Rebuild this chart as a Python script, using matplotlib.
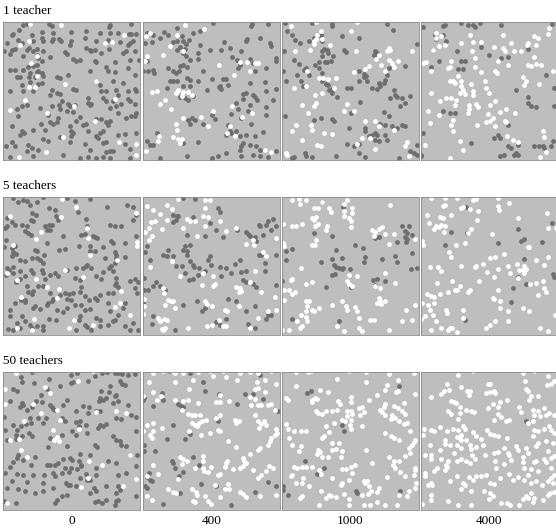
import re
import numpy as np
import matplotlib
matplotlib.use('Agg')
import matplotlib.pyplot as plt

plt.rcParams['font.family'] = ['Liberation Serif', 'DejaVu Serif']

# dot positions (pixel coords inside each panel, 3x scale)
# rows: number of teachers, columns: time step
row_titles = ['1 teacher', '5 teachers', '50 teachers']
col_labels = ['0', '400', '1000', '4000']

gray_1_0 = """(68,22),(80,18),(148,18),(155,25),(395,18),(332,20),(328,27),(58,35),(40,48),(35,50),(95,50),(125,42),(160,45),(215,42),(260,38),(300,45),(330,45),(355,45),(388,47),(395,47),(410,48),
(20,75),(55,65),(65,75),(100,68),(125,60),(130,70),(155,68),(160,62),(178,62),(182,68),(212,68),(255,60),(290,68),(325,65),(362,72),(390,75),(400,70),(385,82),
(13,100),(35,95),(45,92),(80,95),(88,90),(100,100),(110,92),(130,100),(210,82),(260,90),(270,95),(275,100),(285,95),(328,92),(380,100),(405,100),
(30,108),(70,115),(110,110),(115,120),(125,128),(150,118),(195,103),(200,108),(220,122),(228,128),(240,125),(285,128),(288,133),(305,105),(345,133),(390,125),(418,125),(370,105),
(85,148),(100,145),(110,140),(30,155),(45,155),(70,155),(90,165),(110,162),(115,160),(125,165),(270,158),(320,148),(325,158),(385,150),(345,162),(405,172),(50,178),(60,178),(88,178),(105,178),(128,175),(170,178),(180,180),(205,172),
(90,192),(115,198),(125,195),(65,200),(290,188),(340,188),(370,195),(300,200),(30,218),(68,218),(100,218),(155,215),(220,212),(230,215),(305,218),(320,218),(350,215),(385,218),(405,212),(410,220),
(150,232),(170,225),(180,228),(185,248),(265,240),(310,240),(320,250),(355,232),(385,242),(390,248),(340,248),
(65,265),(80,260),(120,270),(155,265),(178,260),(180,272),(205,258),(210,265),(225,262),(265,255),(270,260),(275,258),(330,270),(350,265),(365,258),(405,258),(50,272),(200,278),(220,282),(355,285),(410,285),(395,293),
(55,295),(145,292),(175,300),(240,298),(290,302),(305,302),(380,300),(405,295),(228,310),(150,312),(160,318),(170,312),(250,322),(260,318),(320,312),(325,320),(35,323),(122,318),(210,325),(330,308),
(65,338),(72,345),(60,350),(100,335),(135,335),(215,340),(220,345),(265,340),(300,345),(310,340),(290,355),(295,360),(375,348),(410,345),(355,352),(130,362),(180,358),(215,355),
(35,372),(18,383),(45,385),(85,382),(95,390),(145,370),(210,372),(255,378),(310,375),(320,372),(375,378),(270,395),(320,402),(330,400),(340,398),(390,393),(80,398),(115,395),
(30,418),(100,415),(190,412),(240,420),(265,418),(290,420),(310,418),(330,420),(390,420)"""
white_1_0 = """(90,18),(182,20),(372,50),(88,70),(60,82),(316,75),(336,73),(110,115),(92,135),(112,175),(290,188),(195,197),(87,206),(106,208),
(76,246),(345,242),(222,263),(31,275),(140,286),(286,310),(190,356),(358,373),(410,377),(137,402),(58,416),(408,411)"""

gray_1_1 = """(20,45),(40,50),(73,42),(85,50),(110,30),(125,55),(158,45),(180,38),(220,15),(338,18),(333,25),(385,18),
(15,75),(35,72),(60,60),(100,72),(110,70),(130,68),(138,78),(148,65),(180,80),(245,95),(252,72),(270,90),(322,62),(318,70),(360,60),(390,75),(395,85),
(110,95),(120,88),(128,105),(135,92),(175,105),(210,95),(305,100),(138,115),(175,122),(278,118),(292,125),(410,120),(408,128),(330,122),(20,130),
(10,158),(25,160),(40,155),(42,165),(85,150),(100,158),(108,165),(118,160),(120,145),(130,140),(140,148),(150,125),(190,158),(295,150),(300,142),(340,135),(345,158),(378,150),
(100,190),(110,188),(140,180),(150,185),(175,188),(215,182),(250,182),(260,182),(240,205),(245,212),(238,208),(265,200),(330,195),(375,192),(90,188),
(130,205),(150,205),(200,215),(80,210),(310,228),(320,225),(340,230),(345,238),(352,245),(310,242),(380,220),(408,212),(400,245),
(120,238),(135,240),(145,245),(160,235),(290,255),(330,260),(295,272),(380,268),(275,288),(325,280),
(145,305),(155,300),(165,305),(190,318),(215,290),(225,302),(305,300),(335,318),(380,292),(150,318),
(265,322),(270,340),(275,345),(290,340),(300,355),(260,350),(320,350),(345,355),(370,342),(52,345),(30,380),(40,380),(120,365),(130,375),(175,372),(20,368),(310,375),(305,385),(300,395),(330,380),(350,385),(360,395),(410,398),
(60,420),(140,415),(215,420),(235,415),(260,405),(305,415),(340,410),(360,415),(385,418)"""
white_1_1 = """(18,55),(30,45),(110,52),(135,20),(192,32),(90,85),(130,98),(70,112),(20,115),(15,130),(238,142),(300,132),(322,132),(345,135),(355,135),(330,158),(282,172),
(36,222),(52,220),(75,245),(60,258),(108,225),(115,215),(130,222),(145,222),(155,232),(125,235),(92,272),(220,278),(278,265),(308,298),(338,285),(128,300),(182,298),
(108,318),(205,325),(112,335),(272,325),(262,345),(285,355),(58,355),(55,368),(98,358),(115,362),(125,362),(18,400),(375,395),(395,402),(120,375)"""

gray_1_2 = """(18,15),(25,40),(40,50),(48,65),(62,75),(15,98),(90,70),(105,60),(115,55),(125,50),(130,70),(128,98),(135,92),(145,95),(148,105),(130,115),(138,132),(145,132),(155,130),(162,115),
(100,15),(160,18),(158,25),(190,55),(240,60),(195,95),(200,102),(290,100),(295,105),(285,110),(325,18),(342,35),(415,78),(45,125),(60,138),(75,155),(80,150),(90,172),(120,132),(108,140),(120,150),(130,165),
(12,160),(22,188),(55,170),(65,188),(72,205),(130,190),(140,198),(148,200),(150,215),(158,212),(160,225),(175,238),(205,210),(218,210),(240,188),(255,178),(262,175),(265,190),(280,210),(295,212),(300,195),(305,205),(315,195),(320,185),(325,170),(330,150),(240,160),(255,168),
(345,215),(350,230),(355,238),(335,240),(370,240),(380,255),(365,265),(395,235),(378,145),(18,295),(105,305),(125,300),(158,302),(165,308),(215,285),(245,252),(315,282),(330,295),(305,318),(320,320),(340,325),(370,320),(380,325),
(258,330),(260,340),(270,355),(290,345),(295,350),(290,365),(300,368),(325,365),(320,350),(355,330),(205,378),(240,378),(225,385),(240,405),(258,418),(395,398),(405,405),(415,380),(415,410),
(78,405),(80,415),(100,418),(40,420),(360,420),(45,418),(170,415),(280,350),(210,330)"""
white_1_2 = """(35,25),(20,405),(25,410),(125,38),(115,50),(110,62),(105,68),(128,62),(152,82),(215,38),(235,12),(48,98),(92,95),(105,78),(232,100),(330,90),(325,100),(335,95),(400,98),
(300,112),(292,122),(330,125),(340,135),(358,130),(345,148),(320,160),(308,140),(270,143),(225,162),(258,152),(85,160),(120,180),(132,180),(148,182),(172,180),
(45,210),(80,205),(130,225),(108,230),(110,255),(105,265),(165,210),(68,260),(205,258),(195,280),(225,280),(88,285),(258,308),(290,310),(300,325),(50,320),(40,340),(97,322),(100,335),
(135,345),(160,348),(250,360),(275,360),(70,365),(235,378),(115,382),(125,385),(290,392),(380,385),(385,372),(390,415),(345,335),(110,12)"""

gray_1_3 = """(15,28),(75,25),(82,20),(130,15),(150,20),(165,20),(170,28),(185,15),(250,22),(52,50),(55,62),(75,52),(85,70),(45,95),(118,100),(188,88),(212,110),(250,120),(270,118),(332,92),
(62,130),(130,130),(140,130),(135,152),(120,152),(40,148),(402,18),(385,170),(295,215),(332,238),(330,255),(340,265),(355,268),(410,265),(410,210),(75,280),(95,285),(110,285),
(270,320),(240,350),(230,360),(248,360),(158,375),(270,385),(280,390),(300,380),(295,405),(300,410),(290,412),(258,412),(248,415),(350,385),(365,385),(375,385),(380,390),(400,385),(405,370),(15,345),(10,410),(10,415)"""
white_1_3 = """(55,45),(55,60),(70,55),(62,85),(45,95),(82,82),(155,50),(130,75),(165,72),(162,100),(190,72),(230,88),(255,90),(255,52),(262,100),(280,75),(290,98),(310,100),(328,80),(330,75),(350,55),(360,60),(355,80),(390,48),(395,30),
(350,118),(330,142),(340,145),(355,138),(370,142),(405,158),(15,135),(25,132),(40,160),(90,150),(97,148),(100,130),(170,120),(170,148),(240,130),(272,140),(232,160),(238,165),(190,162),
(120,175),(95,188),(105,188),(110,195),(130,190),(130,205),(135,215),(125,225),(140,228),(160,198),(165,218),(165,232),(200,190),(205,210),(212,225),(315,178),(325,188),(320,202),(365,198),
(40,225),(65,248),(85,240),(100,240),(115,245),(112,262),(152,262),(152,272),(175,258),(180,268),(150,285),(215,260),(232,250),(248,282),(265,272),(292,285),(30,278),(62,292),
(105,305),(210,288),(205,312),(218,308),(225,300),(233,325),(262,310),(265,312),(178,322),(100,320),(105,338),(35,315),(375,340),(268,355),(285,365),(300,372),(380,357),(22,380),(125,370),(135,395),(95,420),(385,402),(368,418)"""

gray_5_0 = """(40,15),(55,28),(68,22),(82,25),(90,35),(110,28),(128,12),(148,45),(165,50),(200,15),(225,25),(235,58),(270,18),(322,42),(382,35),(400,42),
(20,75),(22,100),(35,88),(45,95),(65,95),(80,100),(92,82),(100,85),(95,60),(108,65),(135,100),(148,95),(155,95),(168,70),(175,80),(260,78),(262,100),(330,95),(345,100),(365,100),(400,80),(410,65),
(15,105),(75,115),(85,120),(92,125),(140,112),(150,112),(190,130),(245,125),(255,122),(280,128),(285,132),(292,135),(335,145),(340,150),(375,150),(410,130),
(18,140),(12,162),(35,165),(45,160),(40,178),(48,182),(35,188),(60,200),(75,205),(95,195),(105,170),(112,175),(110,195),(132,185),(130,210),(120,200),(140,150),(178,172),(195,168),(238,160),(270,160),(270,175),(285,175),(310,163),(345,178),(350,185),(375,192),(315,195),
(20,225),(38,222),(60,235),(75,248),(92,230),(100,240),(125,230),(130,240),(135,258),(150,245),(165,240),(175,248),(200,230),(230,225),(250,225),(258,220),(262,215),(275,225),(290,248),(305,258),(310,238),(328,225),(335,220),(345,210),(350,195),(340,235),(350,255),(350,270),
(18,245),(28,230),(40,240),(48,268),(60,258),(80,278),(100,295),(95,302),(85,298),(75,320),(115,280),(130,278),(150,300),(155,325),(160,318),(145,330),(180,305),(195,300),(200,318),(208,302),(220,300),(240,296),(245,282),(240,260),(225,255),
(255,310),(268,322),(285,315),(292,322),(300,305),(325,300),(340,300),(345,275),(355,282),(390,265),(405,258),(415,268),(412,300),(405,285),
(45,330),(62,320),(75,328),(98,345),(105,340),(120,348),(140,335),(170,350),(188,358),(200,345),(215,322),(225,335),(245,335),(255,350),(270,348),(325,330),(330,355),(345,380),(355,365),(370,345),(375,330),
(30,352),(30,370),(50,390),(65,370),(75,385),(90,395),(95,405),(110,400),(130,400),(148,378),(168,380),(238,380),(240,370),(255,395),(262,402),(290,375),(300,380),(302,398),(325,395),(340,385),
(25,408),(40,410),(60,405),(130,410),(230,410),(275,410),(400,390),(415,410),(390,412),(375,400)"""
white_5_0 = """(185,18),(228,42),(262,105),(265,135),(182,72),(30,70),(122,118),(108,138),(38,155),(272,185),(352,200),(195,230),(20,240),(52,260),(108,258),(250,252),(140,282),(178,288),
(410,60),(412,148),(412,158),(365,295),(362,330),(62,312),(172,315),(345,342),(390,365),(222,380),(102,378),(52,405),(95,412),(208,405),(280,395)"""

gray_5_1 = """(130,15),(165,18),(235,45),(240,58),(100,65),(110,70),(108,82),(98,88),(115,68),(160,72),(210,90),(358,95),(360,100),(380,95),(385,85),(400,78),(408,100),(395,112),
(140,125),(195,130),(230,112),(250,132),(292,112),(320,118),(325,122),(330,130),(345,132),(350,145),(370,125),(15,178),(20,160),(30,200),(70,185),(85,172),(80,190),(100,190),(108,220),(125,220),
(130,170),(135,158),(140,175),(150,155),(140,185),(150,205),(160,215),(162,222),(178,225),(205,200),(210,190),(213,215),(240,222),(260,225),(285,212),(302,200),(305,238),(320,235),(358,185),(365,185),(375,210),(375,235),(410,185),
(135,240),(148,262),(160,258),(175,245),(195,235),(245,250),(275,240),(310,260),(320,268),(340,272),(350,282),(410,275),(12,255),(12,290),(25,290),(40,280),(48,268),(60,278),(75,292),
(128,335),(170,325),(185,355),(195,345),(265,318),(290,325),(320,355),(345,340),(380,378),(385,365),(395,365),(40,368),(35,392),(230,388),(240,395),(260,378),(105,412),(325,392),(345,405),(10,330)"""
white_5_1 = """(20,40),(38,50),(60,62),(80,35),(95,48),(115,18),(195,22),(210,20),(195,45),(190,70),(205,72),(240,85),(195,100),(165,85),(150,85),(140,78),(80,80),(65,108),(45,85),(28,105),(32,88),(15,117),(28,140),(35,130),
(130,105),(170,130),(260,115),(290,105),(320,152),(340,140),(342,155),(370,178),(380,188),(410,135),(95,205),(30,222),(120,250),(188,240),(220,250),(345,235),(185,275),(220,278),(225,272),
(290,282),(300,285),(298,298),(305,295),(330,268),(365,298),(405,312),(70,285),(72,300),(75,335),(85,320),(92,325),(100,325),(105,345),(195,325),(200,332),(218,340),(255,352),(262,355),(298,340),(385,355),(410,352),
(12,318),(12,340),(10,362),(55,375),(60,385),(72,378),(80,382),(65,408),(70,412),(75,405),(145,405),(200,398),(215,395),(238,380),(250,400),(260,400),(330,405),(355,375)"""

gray_5_2 = """(128,28),(192,42),(105,120),(158,128),(370,100),(390,100),(400,125),(380,115),(385,120),(378,132),(385,138),(382,148),(355,148),(290,135),(300,132),(22,175),(22,200),(40,168),
(125,208),(158,198),(165,215),(172,222),(180,225),(190,228),(192,225),(212,228),(172,172),(190,195),(228,155),(252,165),(258,192),(255,208),(310,198),(350,190),(355,208),(400,180),(398,228),(415,225),
(160,245),(168,242),(215,282),(140,282),(282,262),(295,258),(288,275),(320,265),(10,265),(38,378),(180,385)"""
white_5_2 = """(40,22),(60,18),(62,32),(80,20),(105,45),(118,45),(130,28),(150,45),(155,58),(195,32),(205,20),(220,45),(220,60),(195,70),(210,75),(218,85),(215,102),(195,55),(100,75),(105,82),(112,72),(108,98),(118,92),(145,100),(140,112),
(40,98),(50,100),(68,92),(12,92),(12,150),(15,158),(110,142),(100,155),(108,155),(335,35),(280,110),(290,118),(285,130),(300,108),(310,102),(320,122),(345,122),(330,152),(410,138),
(65,225),(40,258),(35,262),(80,272),(98,268),(210,245),(235,250),(205,265),(210,272),(220,280),(318,240),(350,270),(290,280),(305,285),(15,292),(30,290),(40,302),(48,298),(15,320),
(80,325),(90,325),(85,340),(65,365),(80,355),(98,352),(105,355),(120,345),(160,335),(190,325),(200,340),(205,350),(228,342),(235,355),(300,315),(305,325),(295,330),(308,332),(320,325),(382,350),(410,335),
(55,385),(80,372),(85,385),(70,400),(62,405),(30,410),(10,410),(175,398),(195,415),(240,375),(240,405),(250,415),(275,382),(285,380),(330,410),(370,385),(400,380)"""

gray_5_3 = """(145,42),(100,118),(148,120),(82,155),(240,150),(302,108),(310,145),(318,138),(372,148),(402,90),(318,198),(405,242),(408,252),(302,252),(325,272),(285,285),(280,328),(142,382)"""
white_5_3 = """(38,15),(80,15),(118,15),(165,22),(175,18),(240,15),(275,30),(80,35),(75,38),(135,42),(130,45),(155,48),(180,55),(242,38),(245,52),(28,65),(65,72),(75,75),(98,65),(178,80),
(32,90),(48,108),(55,100),(62,102),(68,95),(80,98),(78,118),(160,108),(150,120),(222,122),(300,75),(388,60),(392,105),(415,105),(12,145),(15,155),(115,155),(140,150),(330,162),(335,162),
(92,178),(98,192),(215,195),(232,192),(258,182),(318,218),(305,232),(315,232),(325,228),(355,200),(380,215),(392,192),(35,222),(60,222),(68,235),(128,220),(175,218),(170,222),(195,212),
(240,228),(208,238),(228,252),(278,240),(270,220),(298,212),(102,265),(58,270),(118,290),(125,278),(112,292),(155,292),(150,298),(182,265),(240,290),(302,255),(320,240),(338,272),(355,270),(375,265),(380,285),
(12,330),(28,302),(40,310),(48,312),(65,302),(90,298),(30,335),(48,330),(35,350),(20,368),(45,365),(85,350),(88,360),(135,352),(135,375),(225,315),(228,318),(248,325),(270,355),(248,345),(315,345),(335,355),(362,305),(385,298),
(55,385),(40,410),(70,405),(90,410),(95,405),(102,405),(118,418),(205,405),(218,395),(232,385),(272,385),(368,405),(412,365),(390,415),(10,378)"""

gray_50_0 = """(95,12),(62,28),(65,42),(102,45),(40,62),(50,70),(30,100),(122,80),(140,62),(148,32),(180,55),(215,22),(220,42),(212,45),(232,15),(265,40),(285,25),(308,15),(322,12),(345,15),(355,15),(368,18),(385,22),(405,18),
(362,38),(368,48),(375,52),(330,55),(305,68),(328,72),(300,90),(310,95),(320,90),(345,85),(350,80),(340,105),(355,100),(385,112),
(65,105),(70,110),(60,118),(82,125),(95,118),(108,100),(125,102),(150,112),(155,118),(160,122),(165,125),(200,95),(190,110),(228,128),(250,115),(265,135),(268,118),(298,100),(300,128),(288,130),
(12,148),(15,185),(40,170),(50,185),(62,175),(78,168),(90,150),(92,165),(115,150),(130,165),(138,150),(185,150),(195,158),(230,162),(242,160),(238,175),(258,170),(300,170),(295,180),(310,175),(320,168),(350,150),(365,152),(395,142),(410,148),(408,188),
(22,215),(48,200),(48,212),(65,205),(88,195),(95,205),(145,238),(150,210),(185,200),(200,235),(218,188),(228,202),(262,195),(285,230),(292,238),(340,205),(350,215),(360,218),(365,230),(378,235),
(38,282),(50,270),(55,262),(70,275),(92,292),(105,268),(140,290),(150,290),(165,290),(175,285),(190,272),(210,270),(218,275),(195,300),(215,300),(238,280),(243,290),(245,295),(240,258),(270,262),(290,300),(325,278),(350,285),(392,260),(412,262),(410,295),
(15,315),(30,298),(50,318),(70,320),(100,322),(132,322),(160,315),(165,325),(185,315),(208,312),(232,302),(240,330),(258,318),(270,335),(290,322),(355,320),(380,315),
(20,360),(35,340),(55,362),(80,342),(75,370),(105,375),(128,345),(130,370),(160,360),(198,345),(205,352),(210,352),(230,355),(262,335),(282,360),(290,368),(320,355),(355,355),(360,365),(350,375),(355,395),(410,385),
(48,405),(165,405),(172,395),(185,385),(200,380),(272,375),(285,402),(295,400),(308,405),(320,395),(345,410),(350,400),(12,400)"""
white_50_0 = """(48,15),(280,10),(235,40),(15,62),(15,108),(135,58),(150,75),(100,108),(170,125),(122,135),(180,155),(72,158),(160,185),(238,182),(290,132),(348,130),(378,136),
(30,215),(58,212),(170,208),(162,215),(178,220),(62,245),(80,268),(268,278),(308,290),(390,262),(265,330),(245,358),(370,355),(408,332),(20,405)"""

gray_50_1 = """(10,95),(38,115),(65,75),(70,95),(90,8),(115,108),(122,115),(130,118),(150,15),(190,42),(195,68),(238,78),(292,108),(315,78),(340,78),(370,92),(415,128),(235,158),(100,170),(80,212),(135,212),(150,198),
(12,230),(45,248),(12,250),(160,268),(95,278),(100,285),(105,300),(130,312),(178,292),(118,325),(28,315),(22,328),(30,335),(35,338),(15,355),(20,360),(120,375),(182,348),(230,355),(345,372),(385,342),(410,355),(70,408),(275,410),(12,90),(360,22)"""
white_50_1 = """(40,15),(68,10),(95,10),(105,15),(130,15),(175,12),(210,10),(250,10),(300,15),(332,12),(355,15),(395,10),(28,42),(105,42),(148,62),(160,35),(220,25),(260,28),(292,35),(352,42),(375,35),
(10,85),(38,72),(50,95),(62,85),(105,95),(130,100),(145,95),(175,105),(228,102),(242,102),(240,80),(268,98),(332,88),(345,92),(335,112),(355,112),(365,112),(385,112),(395,108),(405,125),(375,72),(355,60),(345,62),(410,48),
(125,125),(145,138),(155,140),(165,140),(180,140),(155,165),(165,170),(172,175),(178,165),(185,158),(198,155),(210,195),(235,185),(240,190),(228,150),(240,140),(285,155),(290,165),(298,158),(345,140),(355,158),(372,158),(365,168),(358,180),(380,170),(408,182),(412,195),
(22,170),(38,165),(40,190),(30,200),(35,210),(65,180),(10,190),(148,188),(182,200),(265,220),(288,238),(355,245),(362,240),(385,230),(392,218),(395,210),(405,200),
(120,268),(130,272),(140,278),(125,288),(190,265),(188,278),(190,300),(192,308),(205,312),(212,298),(38,290),(20,325),(55,318),(115,332),(165,300),(240,318),(235,320),(255,298),(258,285),(262,278),
(280,302),(300,300),(310,295),(320,285),(310,270),(312,278),(330,258),(340,305),(355,330),(365,320),(378,308),(388,295),(400,300),
(85,362),(100,372),(108,375),(155,362),(168,372),(172,380),(158,398),(165,402),(195,385),(205,400),(212,408),(242,388),(265,348),(268,362),(300,372),(310,378),(318,388),(225,352),(255,362),(360,385),(410,380),(20,385),(35,395)"""

gray_50_2 = """(85,75),(95,68),(362,55),(190,172),(195,188),(78,278),(135,300),(115,318),(12,355),(12,365),(28,380),(232,368),(235,375),(365,368)"""
white_50_2 = """(50,12),(88,12),(95,8),(210,10),(262,12),(405,15),(330,18),(358,35),(50,55),(122,65),(148,72),(175,32),(262,42),(320,65),(325,52),(352,72),(358,70),(410,78),
(28,95),(22,90),(100,95),(108,90),(98,102),(115,92),(178,100),(182,108),(215,88),(218,102),(270,95),(295,80),(318,108),(315,118),(345,115),(358,120),(375,105),(370,128),(380,138),
(112,128),(118,135),(128,138),(140,128),(158,128),(175,125),(205,130),(215,130),(220,138),(205,145),(215,155),(198,160),(212,170),(240,120),(250,118),(255,132),(245,140),(305,125),(310,132),(318,140),(340,140),(338,152),(350,150),(362,158),(375,168),(385,165),
(20,168),(28,182),(45,188),(65,188),(80,188),(140,175),(150,192),(135,205),(130,210),(218,182),(250,175),(190,155),(165,165),(320,195),(338,205),(345,210),(360,215),(395,188),(405,222),(410,215),(400,232),(390,240),
(30,210),(38,230),(65,235),(60,250),(118,245),(122,252),(115,258),(130,268),(158,225),(160,245),(172,242),(180,225),(188,250),(185,268),(148,268),(262,245),(330,268),(345,280),(342,292),(360,280),(380,265),(395,255),(408,300),(410,305),
(45,298),(55,300),(68,298),(80,298),(100,298),(120,305),(125,318),(40,320),(35,325),(72,330),(68,345),(50,345),(90,355),(160,330),(188,302),(200,302),(218,298),(220,315),(230,290),(280,285),(325,328),(350,300),(365,312),(378,325),(405,320),(412,345),
(185,352),(190,345),(210,335),(255,338),(260,345),(265,340),(272,355),(195,378),(150,380),(155,385),(170,388),(210,392),(250,380),(268,378),(278,368),(295,372),(300,360),(360,382),(385,385),(390,370),(410,360),
(62,390),(70,385),(125,370),(140,390),(120,410),(210,410),(255,410),(275,410),(295,402),(320,410),(355,410)"""

gray_50_3 = """(325,158)"""
white_50_3 = """(120,20),(165,10),(315,15),(350,8),(390,25),(210,48),(218,48),(88,48),(78,70),(92,65),(70,78),(38,88),(128,58),(148,70),(155,68),(152,82),(205,75),(218,72),(228,68),(232,75),(248,102),(268,95),
(322,40),(325,62),(332,70),(340,85),(335,95),(360,85),(388,52),(400,48),(410,38),(100,98),(108,102),(115,105),(125,118),(90,128),(100,138),(125,135),(145,125),(160,128),(168,132),(120,152),
(210,120),(225,108),(240,118),(242,138),(250,148),(275,155),(265,160),(228,155),(305,118),(310,132),(345,125),(350,140),(360,130),(368,145),(378,120),(385,140),(395,135),(410,140),
(18,182),(38,185),(48,188),(65,178),(88,190),(105,182),(120,185),(135,175),(140,182),(165,192),(118,208),(125,210),(130,200),(128,215),(175,205),(190,212),(208,185),(215,198),(230,202),(242,205),(268,210),
(330,165),(345,160),(350,185),(360,188),(345,205),(360,225),(380,182),(395,175),(400,185),(410,195),(385,218),(405,225),(15,200),(35,232),(40,260),(20,262),(65,245),(82,215),(82,228),(95,232),
(108,255),(118,232),(128,240),(145,215),(155,230),(158,242),(162,262),(175,238),(195,232),(230,255),(240,252),(258,240),(270,255),(275,260),(295,235),(300,245),(325,240),(330,255),(355,235),(390,248),(400,270),(410,265),
(40,272),(68,272),(90,280),(118,278),(128,272),(145,280),(155,285),(170,272),(200,260),(232,278),(235,300),(258,288),(280,275),(315,268),(315,282),(320,300),(348,282),(355,278),(340,302),(330,320),(360,308),(380,272),(385,282),(400,300),(410,320),
(20,325),(22,315),(48,308),(58,300),(80,305),(88,298),(85,290),(118,325),(135,345),(140,352),(152,328),(165,335),(175,325),(188,325),(205,322),(215,345),(228,348),(248,330),(275,318),(285,335),(300,328),(318,335),(340,345),(355,340),(372,350),(390,340),(400,330),(405,345),
(38,345),(42,350),(30,352),(38,382),(40,395),(90,400),(120,410),(130,362),(160,368),(160,412),(198,368),(215,375),(212,392),(225,385),(250,405),(268,405),(278,410),(305,410),(315,392),(325,385),(330,390),(340,375),(348,390),(345,402),(375,395),(390,380),(398,375),(410,372),(12,408),(95,340)"""

grays = [[gray_1_0, gray_1_1, gray_1_2, gray_1_3],
         [gray_5_0, gray_5_1, gray_5_2, gray_5_3],
         [gray_50_0, gray_50_1, gray_50_2, gray_50_3]]
whites = [[white_1_0, white_1_1, white_1_2, white_1_3],
          [white_5_0, white_5_1, white_5_2, white_5_3],
          [white_50_0, white_50_1, white_50_2, white_50_3]]


def pts(s):
    return np.array([int(v) for v in re.findall(r'\d+', s)]).reshape(-1, 2)


fig = plt.figure(figsize=(5.56, 5.29), dpi=100)
lefts = [3 / 556, 143 / 556, 282 / 556, 421 / 556]
bottoms = [1 - 160 / 529, 1 - 335 / 529, 1 - 510 / 529]
w = 137 / 556
h = 138 / 529

for r in range(3):
    for c in range(4):
        ax = fig.add_axes([lefts[c], bottoms[r], w, h])
        ax.set_facecolor('#bebebe')
        g = pts(grays[r][c])
        wh = pts(whites[r][c])
        ax.scatter(g[:, 0], g[:, 1], s=12, color='#6e6e6e', linewidths=0)
        ax.scatter(wh[:, 0], wh[:, 1], s=12, color='white', linewidths=0)
        ax.set_xlim(9, 421)
        ax.set_ylim(426, 12)
        ax.set_xticks([])
        ax.set_yticks([])
        for sp in ax.spines.values():
            sp.set_color('#8a8a8a')
            sp.set_linewidth(0.6)
        if c == 0:
            fig.text(3 / 556, bottoms[r] + h + 5 / 529, row_titles[r], fontsize=9.5,
                     ha='left', va='bottom')
        if r == 2:
            fig.text(lefts[c] + w / 2, 0.003, col_labels[c], fontsize=9.5,
                     ha='center', va='bottom')

fig.savefig('out.png', dpi=100)
